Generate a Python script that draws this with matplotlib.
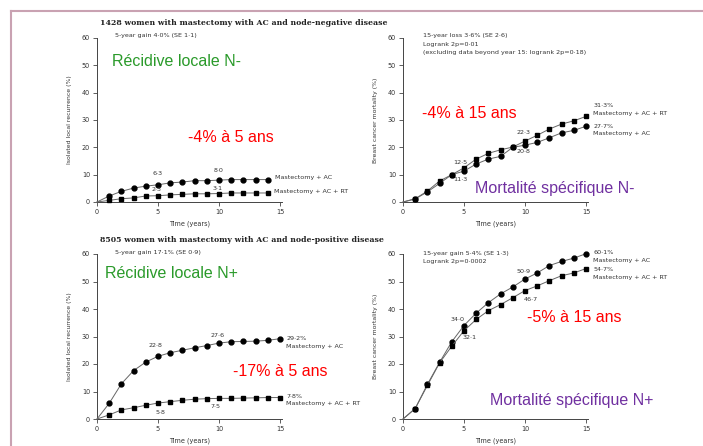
#!/usr/bin/env python3
"""
Mastectomy + AC with / without RT: local recurrence and breast cancer mortality,
node-negative (top) and node-positive (bottom) disease.
"""
import matplotlib
matplotlib.use("Agg")
import matplotlib.pyplot as plt
from matplotlib.lines import Line2D

W, H = 703, 446

# Node-negative, isolated local recurrence (years 0..14)
years_nneg_rec = list(range(0, 15))
nneg_rec_ac = [0, 2.2, 3.9, 5.1, 5.8, 6.3, 7.0, 7.3, 7.8, 7.8, 8.0, 8.2, 8.2, 8.2, 8.2]
nneg_rec_rt = [0, 0.6, 1.2, 1.5, 2.2, 2.3, 2.6, 2.8, 3.0, 3.0, 3.1, 3.3, 3.3, 3.3, 3.3]

# Node-negative, breast cancer mortality (years 0..15)
years_15 = list(range(0, 16))
nneg_mort_rt = [0, 1.2, 4.0, 7.7, 10.0, 12.5, 15.7, 17.8, 19.1, 20.1, 22.3, 24.4, 26.7, 28.5, 29.7, 31.3]
nneg_mort_ac = [0, 1.1, 3.7, 6.8, 10.0, 11.3, 13.9, 15.7, 16.7, 20.0, 20.8, 21.8, 23.5, 25.3, 26.2, 27.7]

# Node-positive, isolated local recurrence
npos_rec_ac = [0, 5.7, 12.8, 17.6, 20.7, 22.8, 24.1, 25.0, 25.9, 26.7, 27.6, 28.1, 28.2, 28.3, 28.6, 29.2]
npos_rec_rt = [0, 1.5, 3.3, 4.1, 5.0, 5.8, 6.3, 6.8, 7.2, 7.4, 7.5, 7.5, 7.6, 7.7, 7.8, 7.8]

# Node-positive, breast cancer mortality
npos_mort_ac = [0, 3.8, 12.6, 20.6, 28.1, 34.0, 38.5, 42.3, 45.5, 48.0, 50.9, 53.1, 55.8, 57.3, 58.5, 60.1]
npos_mort_rt = [0, 3.8, 12.2, 20.4, 26.5, 32.1, 36.2, 39.4, 41.6, 44.1, 46.7, 48.4, 50.3, 52.1, 53.1, 54.7]

SMALL = dict(fontsize=4.6, color="#333333", family="DejaVu Sans")


def px_axes(fig, x0, y_top, x1, y_bottom):
    return fig.add_axes([x0 / W, 1 - y_bottom / H, (x1 - x0) / W, (y_bottom - y_top) / H])


def style(ax, ylabel):
    ax.set_xlim(0, 15.2)
    ax.set_ylim(0, 60)
    for s in ["top", "right"]:
        ax.spines[s].set_visible(False)
    for s in ["left", "bottom"]:
        ax.spines[s].set_color("#444444")
        ax.spines[s].set_linewidth(0.7)
    ax.set_xticks([0, 5, 10, 15])
    ax.set_yticks([0, 10, 20, 30, 40, 50, 60])
    ax.tick_params(length=3, width=0.6, color="#444444", labelsize=4.7, labelcolor="#333333", pad=2)
    ax.set_xlabel("Time (years)", fontsize=4.7, color="#333333", labelpad=4)
    ax.set_ylabel(ylabel, fontsize=4.4, color="#333333", labelpad=7)
    ax.patch.set_alpha(0)


def curve(ax, x, y, marker):
    ax.plot(x, y, color="#666666", lw=0.7, marker=marker, ms=3.5, mfc="black", mec="black",
            markevery=list(range(1, len(x))), clip_on=False, zorder=3)


def note(ax, x, y, s, ha="center"):
    ax.text(x, y, s, ha=ha, va="center", clip_on=False, **SMALL)


fig = plt.figure(figsize=(W / 100, H / 100), dpi=100)

# outer frame (top and left edges only visible)
frame = "#c9a2b2"
fig.add_artist(Line2D([11 / W, 11 / W], [0, 1 - 11 / H], color=frame, lw=1.5, transform=fig.transFigure))
fig.add_artist(Line2D([11 / W, 1], [1 - 11 / H, 1 - 11 / H], color=frame, lw=1.5, transform=fig.transFigure))

# ---- top left
ax1 = px_axes(fig, 97, 38, 282.4, 202)
style(ax1, "Isolated local recurrence (%)")
curve(ax1, years_nneg_rec, nneg_rec_ac, "o")
curve(ax1, years_nneg_rec, nneg_rec_rt, "s")
note(ax1, 5, 10.6, "6·3")
note(ax1, 10, 11.7, "8·0")
note(ax1, 4.9, 4.4, "2·3")
note(ax1, 9.9, 5.1, "3·1")
note(ax1, 14.6, 8.8, "Mastectomy + AC", ha="left")
note(ax1, 14.5, 3.9, "Mastectomy + AC + RT", ha="left")
note(ax1, 1.5, 60.8, "5-year gain 4·0% (SE 1·1)", ha="left")

# ---- top right
ax2 = px_axes(fig, 403, 38, 588.4, 202)
style(ax2, "Breast cancer mortality (%)")
curve(ax2, years_15, nneg_mort_rt, "s")
curve(ax2, years_15, nneg_mort_ac, "o")
note(ax2, 4.7, 14.3, "12·5")
note(ax2, 4.7, 8.4, "11·3")
note(ax2, 9.9, 25.3, "22·3")
note(ax2, 9.9, 18.3, "20·8")
note(ax2, 15.6, 35.2, "31·3%", ha="left")
note(ax2, 15.6, 32.2, "Mastectomy + AC + RT", ha="left")
note(ax2, 15.6, 27.8, "27·7%", ha="left")
note(ax2, 15.6, 24.9, "Mastectomy + AC", ha="left")
note(ax2, 1.6, 60.8, "15-year loss 3·6% (SE 2·6)", ha="left")
note(ax2, 1.6, 57.8, "Logrank 2p=0·01", ha="left")
note(ax2, 1.6, 54.8, "(excluding data beyond year 15: logrank 2p=0·18)", ha="left")

# ---- bottom left
ax3 = px_axes(fig, 97, 254, 282.4, 419)
style(ax3, "Isolated local recurrence (%)")
curve(ax3, years_15, npos_rec_ac, "o")
curve(ax3, years_15, npos_rec_rt, "s")
note(ax3, 4.8, 26.9, "22·8")
note(ax3, 9.9, 30.5, "27·6")
note(ax3, 5.2, 2.5, "5·8")
note(ax3, 9.7, 4.4, "7·5")
note(ax3, 15.5, 29.4, "29·2%", ha="left")
note(ax3, 15.5, 26.5, "Mastectomy + AC", ha="left")
note(ax3, 15.5, 8.0, "7·8%", ha="left")
note(ax3, 15.5, 5.5, "Mastectomy + AC + RT", ha="left")
note(ax3, 1.5, 60.5, "5-year gain 17·1% (SE 0·9)", ha="left")

# ---- bottom right
ax4 = px_axes(fig, 403, 254, 588.4, 419)
style(ax4, "Breast cancer mortality (%)")
curve(ax4, years_15, npos_mort_ac, "o")
curve(ax4, years_15, npos_mort_rt, "s")
note(ax4, 4.5, 36.3, "34·0")
note(ax4, 5.5, 29.5, "32·1")
note(ax4, 9.9, 53.8, "50·9")
note(ax4, 10.5, 43.6, "46·7")
note(ax4, 15.6, 60.4, "60·1%", ha="left")
note(ax4, 15.6, 57.5, "Mastectomy + AC", ha="left")
note(ax4, 15.6, 54.2, "54·7%", ha="left")
note(ax4, 15.6, 51.6, "Mastectomy + AC + RT", ha="left")
note(ax4, 1.6, 60.2, "15-year gain 5·4% (SE 1·3)", ha="left")
note(ax4, 1.6, 57.2, "Logrank 2p=0·0002", ha="left")

# panel titles
title_kw = dict(fontsize=5.6, fontweight="bold", color="#222222", family="DejaVu Serif", va="center")
fig.text(100 / W, 1 - 23 / H, "1428 women with mastectomy with AC and node-negative disease", **title_kw)
fig.text(100 / W, 1 - 240 / H, "8505 women with mastectomy with AC and node-positive disease", **title_kw)

# coloured overlay texts
green, red, purple = "#2a9a2a", "#ff0000", "#7030a0"
big = dict(fontsize=11.5, family="Liberation Sans", va="center")
for x, y, s, c in [
    (112, 61, "Récidive locale N-", green),
    (188, 137, "-4% à 5 ans", red),
    (422, 113, "-4% à 15 ans", red),
    (475, 189, "Mortalité spécifique N-", purple),
    (105, 273, "Récidive locale N+", green),
    (233, 371, "-17% à 5 ans", red),
    (527, 318, "-5% à 15 ans", red),
    (490, 401, "Mortalité spécifique N+", purple),
]:
    fig.text(x / W, 1 - y / H, s, color=c, **big)

fig.savefig("out.png", dpi=100)
